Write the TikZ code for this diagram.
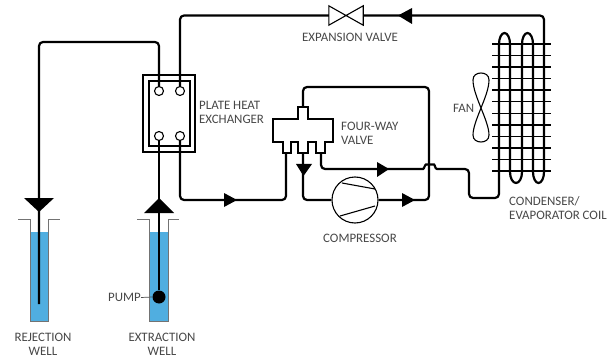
\documentclass[tikz,border=0pt]{standalone}
\usepackage{fontspec}
\setmainfont{Carlito}
\begin{document}
\begin{tikzpicture}[x=1pt,y=-1pt,
  pipe/.style={draw=black,line width=2.2pt,rounded corners=4pt},
  thinline/.style={draw=black,line width=1.1pt},
  port/.style={circle,draw=black,line width=1.1pt,fill=white,minimum size=9pt,inner sep=0pt},
  wire/.style={draw=black,line width=1.5pt},
  tube/.style={draw=black,line width=2.2pt},
  head/.style={fill=black},
  lbl/.style={font=\fontsize{12.9}{14.5}\selectfont,text=black!72,inner sep=0pt},
  wellwall/.style={draw=black!55,line width=1pt}
]
\definecolor{wbl}{HTML}{50AEE0}
\useasboundingbox (0,0) rectangle (607,358);
% coordinates
\coordinate (rejtop) at (39,42);
\coordinate (rejend) at (39,304);
\coordinate (pipeA) at (159,42);
\coordinate (phetopR) at (180,15.5);
\coordinate (phebotR) at (180,200);
\coordinate (fwL) at (286,153);
\coordinate (fwM) at (303,153);
\coordinate (fwR) at (321,153);
\coordinate (fwT) at (303,107);
\coordinate (coilRtop) at (544,15.5);
\coordinate (coilRend) at (544,172);
\coordinate (coilLend) at (499,172);
% wells
\fill[wbl] (30,232) rectangle (48,321);
\fill[wbl] (149,232) rectangle (168,321);
\draw[wellwall] (18,219) -- (30,219) -- (30,321) -- (48,321) -- (48,219) -- (60,219);
\draw[wellwall] (137,219) -- (149,219) -- (149,321) -- (168,321) -- (168,219) -- (179,219);
% plate heat exchanger
\draw[thinline,line width=1.4pt] (143,75) rectangle (195,152);
\draw[thinline,line width=1.4pt] (149,81) rectangle (190,146);
\node[port] (c1) at (159,91) {};
\node[port] (c2) at (180,91) {};
\node[port] (c3) at (159,136) {};
\node[port] (c4) at (180,136) {};
% compressor and valve nodes
\node[circle,draw=black,line width=1.1pt,minimum size=46pt,inner sep=0pt] (comp) at (355,200) {};
\draw[thinline] (342,183) -- (375,189);
\draw[thinline] (340,216) -- (375,206);
\node[minimum width=34pt,minimum height=19pt,inner sep=0pt] (expv) at (346,15.5) {};
\draw[thinline] (expv.north west) -- (expv.south east) -- (expv.north east) -- (expv.south west) -- cycle;
% pump
\node[circle,fill=black,minimum size=13pt,inner sep=0pt] (pump) at (159,297) {};
% pipes
\draw[pipe] (rejend) -- (rejtop) -- (pipeA) -- (c1.north);
\draw[pipe] (c2.north) -- (phetopR) -- (expv.west);
\draw[pipe] (expv.east) -- (coilRtop) -- (coilRend);
\draw[pipe] (c3.south) -- (pump.north);
\draw[pipe] (c4.south) -- (phebotR) -- (286,200) -- (fwL);
\draw[pipe] (fwT) -- (303,87) -- (429,87) -- (429,200) -- (comp.east);
\draw[pipe] (fwM) -- (303,200) -- (comp.west);
\draw[pipe] (fwR) -- (321,169) -- (419,169) .. controls (424,169) and (425,164.5) .. (430,164.5) .. controls (435,164.5) and (435,169) .. (441,169) -- (469,169) -- (469,198) -- (499,198) -- (coilLend);
% four way valve
\draw[thinline,line width=1.4pt,fill=white] (298,119) -- (298,107) -- (308,107) -- (308,119) -- (333,119) -- (333,142) -- (325,142) -- (325,153) -- (316,153) -- (316,142) -- (308,142) -- (308,153) -- (298,153) -- (298,142) -- (291,142) -- (291,153) -- (283,153) -- (283,142) -- (273,142) -- (273,119) -- cycle;
% coil
\draw[tube] (coilLend) -- (499,44) arc[start angle=180,end angle=0,x radius=5.5pt,y radius=11pt] -- (510,172) arc[start angle=180,end angle=360,x radius=6pt,y radius=11pt] -- (522,44) arc[start angle=180,end angle=0,x radius=5.5pt,y radius=11pt] -- (533,172) arc[start angle=180,end angle=360,x radius=5.5pt,y radius=11pt];
\foreach \yy in {44,55.55,67.1,78.65,90.2,101.75,113.3,124.85,136.4,147.95,159.5,171}
  \draw[wire] (492,\yy) -- (551,\yy);
% fan
\draw[thinline] (481,108) .. controls (477,98) and (473,88) .. (473,80) .. controls (473,75) and (477,73) .. (481,73) .. controls (485,73) and (489,75) .. (489,80) .. controls (489,88) and (485,98) .. (481,108) .. controls (477,118) and (473,128) .. (473,135) .. controls (473,140) and (477,142) .. (481,142) .. controls (485,142) and (489,140) .. (489,135) .. controls (489,128) and (485,118) .. (481,108) -- cycle;
% arrowheads
\fill[head] (24,198) -- (54,198) -- (39,212) -- cycle;
\fill[head] (144,213) -- (174,213) -- (159,198) -- cycle;
\fill[head] (224,193) -- (224,207) -- (237,200) -- cycle;
\fill[head] (296,164) -- (312,164) -- (303.5,176) -- cycle;
\fill[head] (377,162) -- (377,177) -- (389,169) -- cycle;
\fill[head] (402,193) -- (402,207) -- (415,200) -- cycle;
\fill[head] (412,8) -- (412,24) -- (398,15.5) -- cycle;
% labels
\node[lbl,align=center] (lrej) at (43,344.5) {REJECTION\\WELL};
\node[lbl,align=center] (lext) at (162,344.5) {EXTRACTION\\WELL};
\node[lbl,anchor=east] (lpump) at (141,297.5) {PUMP};
\draw[draw=black!70,line width=.7pt] (lpump.east) -- (pump.west);
\node[lbl,align=left,anchor=west] (lphe) at (199,112.5) {PLATE HEAT\\EXCHANGER};
\node[lbl,align=left,anchor=west] (lfw) at (341,133.5) {FOUR-WAY\\VALVE};
\node[lbl,anchor=west] (lfan) at (453,108.5) {FAN};
\node[lbl] (lcomp) at (360,238.5) {COMPRESSOR};
\node[lbl] (lexp) at (350,37.5) {EXPANSION VALVE};
\node[lbl,align=left,anchor=west] (lcoil) at (509,208) {CONDENSER/\\EVAPORATOR COIL};
\end{tikzpicture}
\end{document}
